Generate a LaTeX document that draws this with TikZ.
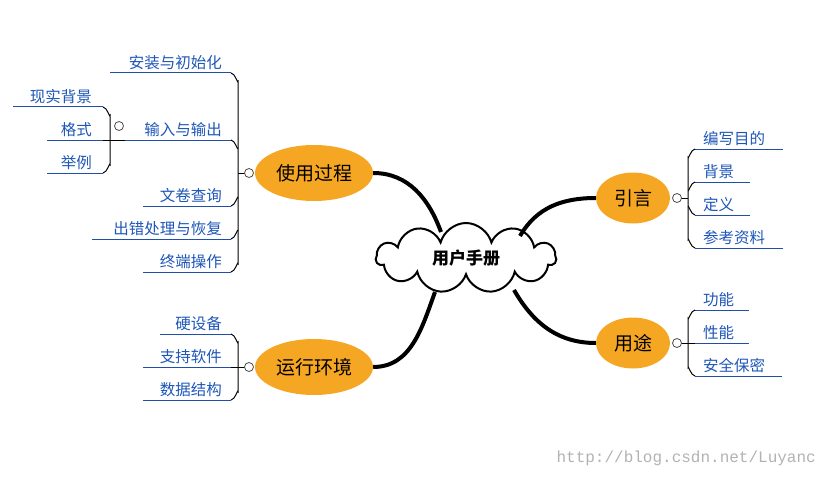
\documentclass[tikz,border=0pt]{standalone}
\usepackage{fontspec}
\setmainfont{Noto Sans CJK SC}
\newfontfamily\wmfont{Liberation Mono}
\usetikzlibrary{shapes.symbols,shapes.geometric}
\definecolor{leafblue}{HTML}{1E56B8}
\definecolor{lineblue}{HTML}{1F4FA8}
\definecolor{orng}{HTML}{F5A623}
\tikzset{
  topic/.style={ellipse,fill=orng,minimum width=118pt,minimum height=56pt,inner sep=0pt,font=\fontsize{19}{19}\selectfont},
  smalltopic/.style={topic,minimum width=74pt,minimum height=51pt},
  leafL/.style={anchor=south east,text=leafblue,inner sep=1pt,font=\fontsize{15.5}{16}\selectfont},
  leafR/.style={anchor=south west,text=leafblue,inner sep=1pt,font=\fontsize{15.5}{16}\selectfont},
  uline/.style={draw=lineblue,line width=1pt},
  brk/.style={draw=black,line width=1pt},
  knob/.style={circle,draw=black!70,fill=white,line width=0.8pt,minimum size=9pt,inner sep=0pt},
  conn/.style={draw=black,line width=4pt},
}
\begin{document}
\begin{tikzpicture}[x=1pt,y=-1pt]
\useasboundingbox (0,0) rectangle (826,476);
% central
\node[cloud,cloud puffs=11,aspect=2.6,draw,line width=2pt,fill=white,minimum width=180pt,minimum height=70pt,inner sep=0pt,font=\bfseries\fontsize{17}{17}\selectfont] (c) at (466,258) {用户手册};
\node[topic] (use) at (314,173) {使用过程};
\node[topic] (env) at (314,367) {运行环境};
\node[smalltopic] (intro) at (633,198) {引言};
\node[smalltopic] (purp) at (633,343) {用途};
\draw[conn] (use.east) to[out=0,in=110] (441,232);
\draw[conn] (env.east) to[out=0,in=-110] (435,292);
\draw[conn] (intro.west) to[out=180,in=60] (520,236);
\draw[conn] (purp.west) to[out=180,in=-60] (514,290);
% left branch: use
\foreach \t/\xl/\y/\n in {安装与初始化/110/73/a1,输入与输出/125/140/a2,文卷查询/143/206/a3,出错处理与恢复/92/239/a4,终端操作/143/272/a5}{
  \node[leafL] (\n) at (223,\y-2) {\t};
  \draw[uline] (\xl,\y) -- (231,\y);
}
\draw[brk] (231,73) to[out=0,in=-90] (238,81) -- (238,264) to[out=90,in=0] (231,272);
\draw[brk] (231,140) to[out=0,in=-90] (238,148);
\draw[brk] (231,206) to[out=0,in=90] (238,198);
\draw[brk] (231,239) to[out=0,in=90] (238,231);
\draw[brk] (238,173) -- (245,173);
\node[knob] (k1) at (249,173) {};
% sub-branch
\foreach \t/\xl/\y/\n in {现实背景/13/107/b1,格式/47/140/b2,举例/47/173/b3}{
  \node[leafL] (\n) at (93,\y-2) {\t};
  \draw[uline] (\xl,\y) -- (103,\y);
}
\draw[brk] (103,107) to[out=0,in=-90] (110,115) -- (110,165) to[out=90,in=0] (103,173);
\draw[brk] (103,140) -- (125,140);
\node[knob] (k2) at (119,126) {};
% left branch: env
\foreach \t/\xl/\y/\n in {硬设备/160/334/e1,支持软件/143/367/e2,数据结构/143/400/e3}{
  \node[leafL] (\n) at (223,\y-2) {\t};
  \draw[uline] (\xl,\y) -- (231,\y);
}
\draw[brk] (231,334) to[out=0,in=-90] (238,342) -- (238,392) to[out=90,in=0] (231,400);
\draw[brk] (231,367) -- (245,367);
\node[knob] (k3) at (249,367) {};
% right: intro
\foreach \t/\xr/\y/\n in {编写目的/783/149/r1,背景/750/182/r2,定义/750/215/r3,参考资料/783/248/r4}{
  \node[leafR] (\n) at (702,\y-2) {\t};
  \draw[uline] (695,\y) -- (\xr,\y);
}
\draw[brk] (695,149) to[out=180,in=-90] (688,157) -- (688,240) to[out=90,in=180] (695,248);
\draw[brk] (695,182) to[out=180,in=-90] (688,190);
\draw[brk] (695,215) to[out=180,in=90] (688,207);
\draw[brk] (688,198) -- (681,198);
\node[knob] (k4) at (677,198) {};
% right: purpose
\foreach \t/\xr/\y/\n in {功能/749/310/p1,性能/749/343/p2,安全保密/782/376/p3}{
  \node[leafR] (\n) at (702,\y-2) {\t};
  \draw[uline] (695,\y) -- (\xr,\y);
}
\draw[brk] (695,310) to[out=180,in=-90] (688,318) -- (688,368) to[out=90,in=180] (695,376);
\draw[brk] (695,343) -- (681,343);
\node[knob] (k5) at (677,343) {};
% watermark
\node[anchor=east,text=black!30,font=\wmfont\fontsize{16}{16}\selectfont,inner sep=0pt] (wm) at (816,458) {http://blog.csdn.net/Luyanc};
\end{tikzpicture}
\end{document}
